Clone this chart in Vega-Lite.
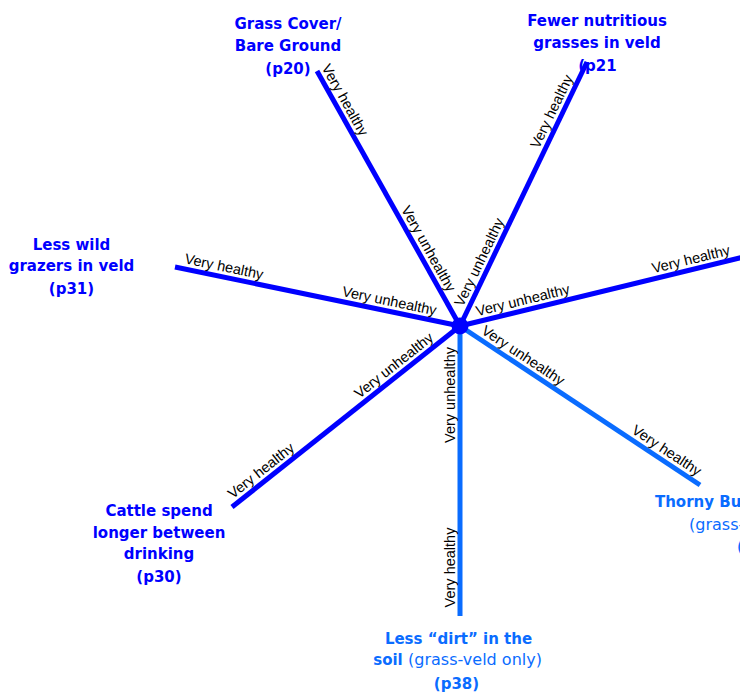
{
  "$schema": "https://vega.github.io/schema/vega-lite/v6.json",
  "width": 740,
  "height": 698,
  "autosize": {"type": "none"},
  "padding": 0,
  "background": "white",
  "config": {"view": {"stroke": null}},
  "datasets": {
    "spokes": [
      {"spoke": "p20", "tone": "dark", "x": 0, "y": 0, "x2": -143, "y2": 255},
      {"spoke": "p21", "tone": "dark", "x": 0, "y": 0, "x2": 127, "y2": 264},
      {"spoke": "right", "tone": "dark", "x": 0, "y": 0, "x2": 300, "y2": 73},
      {"spoke": "thorny", "tone": "light", "x": 0, "y": 0, "x2": 240, "y2": -159},
      {"spoke": "p38", "tone": "light", "x": 0, "y": 0, "x2": 0, "y2": -290},
      {"spoke": "p30", "tone": "dark", "x": 0, "y": 0, "x2": -228, "y2": -181},
      {"spoke": "p31", "tone": "dark", "x": 0, "y": 0, "x2": -285, "y2": 59}
    ],
    "labels": [
      {"spoke": "p20", "label": "Very unhealthy", "x": -40.5, "y": 72.2},
      {"spoke": "p20", "label": "Very healthy", "x": -124, "y": 221},
      {"spoke": "p21", "label": "Very unhealthy", "x": 28.6, "y": 59.4},
      {"spoke": "p21", "label": "Very healthy", "x": 101, "y": 210},
      {"spoke": "right", "label": "Very unhealthy", "x": 65.2, "y": 15.8},
      {"spoke": "right", "label": "Very healthy", "x": 233.3, "y": 56.7},
      {"spoke": "thorny", "label": "Very unhealthy", "x": 57.4, "y": -38},
      {"spoke": "thorny", "label": "Very healthy", "x": 201, "y": -133},
      {"spoke": "p38", "label": "Very unhealthy", "x": 0, "y": -69},
      {"spoke": "p38", "label": "Very healthy", "x": 0, "y": -241.5},
      {"spoke": "p30", "label": "Very unhealthy", "x": -59.8, "y": -47.5},
      {"spoke": "p30", "label": "Very healthy", "x": -192.5, "y": -152.8},
      {"spoke": "p31", "label": "Very unhealthy", "x": -72.7, "y": 15},
      {"spoke": "p31", "label": "Very healthy", "x": -238, "y": 49.3}
    ],
    "titles": [
      {"text": "Grass Cover/", "weight": "bold", "tone": "dark", "x": -172, "y": 302},
      {"text": "Bare Ground", "weight": "bold", "tone": "dark", "x": -172, "y": 280.5},
      {"text": "(p20)", "weight": "bold", "tone": "dark", "x": -172, "y": 257.5},
      {"text": "Fewer nutritious", "weight": "bold", "tone": "dark", "x": 137, "y": 305},
      {"text": "grasses in veld", "weight": "bold", "tone": "dark", "x": 137, "y": 283},
      {"text": "(p21", "weight": "bold", "tone": "dark", "x": 137.5, "y": 260.5},
      {"text": "Less wild", "weight": "bold", "tone": "dark", "x": -388.5, "y": 81.5},
      {"text": "grazers in veld", "weight": "bold", "tone": "dark", "x": -388.5, "y": 60},
      {"text": "(p31)", "weight": "bold", "tone": "dark", "x": -388.5, "y": 37},
      {"text": "Cattle spend", "weight": "bold", "tone": "dark", "x": -301, "y": -185},
      {"text": "longer between", "weight": "bold", "tone": "dark", "x": -301, "y": -207},
      {"text": "drinking", "weight": "bold", "tone": "dark", "x": -301, "y": -228},
      {"text": "(p30)", "weight": "bold", "tone": "dark", "x": -301, "y": -251},
      {"text": "Less “dirt” in the", "weight": "bold", "tone": "light", "x": -1.5, "y": -312.5},
      {"text": "soil", "weight": "bold", "tone": "light", "x": -72, "y": -334},
      {"text": "(grass-veld only)", "weight": "normal", "tone": "light", "x": 15, "y": -334},
      {"text": "(p38)", "weight": "bold", "tone": "light", "x": -3.5, "y": -358},
      {"text": "Thorny Bushes", "weight": "bold", "tone": "light", "x": 257.5, "y": -175.5},
      {"text": "(grass-veld only)", "weight": "normal", "tone": "light", "x": 296, "y": -199},
      {"text": "(p36)", "weight": "bold", "tone": "light", "x": 299.7, "y": -221}
    ]
  },
  "encoding": {
    "x": {"field": "x", "type": "quantitative", "scale": {"domain": [-460, 280], "nice": false, "zero": false}, "axis": null},
    "y": {"field": "y", "type": "quantitative", "scale": {"domain": [-372, 326], "nice": false, "zero": false}, "axis": null}
  },
  "layer": [
    {
      "data": {"name": "titles"},
      "transform": [{"filter": "datum.weight == 'bold'"}],
      "mark": {"type": "text", "font": "DejaVu Sans", "fontSize": 15, "fontWeight": "bold", "align": "center", "baseline": "middle", "clip": true},
      "encoding": {
        "text": {"field": "text", "type": "nominal"},
        "color": {"field": "tone", "type": "nominal", "scale": {"domain": ["dark", "light"], "range": ["#0000ff", "#0a6cff"]}, "legend": null}
      }
    },
    {
      "data": {"name": "titles"},
      "transform": [{"filter": "datum.weight == 'normal'"}],
      "mark": {"type": "text", "font": "DejaVu Sans", "fontSize": 16, "fontWeight": "normal", "align": "center", "baseline": "middle", "clip": true},
      "encoding": {
        "text": {"field": "text", "type": "nominal"},
        "color": {"field": "tone", "type": "nominal", "legend": null}
      }
    },
    {
      "data": {"name": "spokes"},
      "mark": {"type": "rule", "strokeWidth": 5, "strokeCap": "butt", "clip": true},
      "encoding": {
        "x2": {"field": "x2"},
        "y2": {"field": "y2"},
        "color": {"field": "tone", "type": "nominal", "legend": null}
      }
    },
    {
      "data": {"values": [{"x": 0, "y": 0}]},
      "mark": {"type": "circle", "size": 290, "color": "#0000ff", "opacity": 1}
    },
    {
      "data": {"name": "labels"},
      "transform": [{"filter": "datum.spoke == 'p20'"}],
      "mark": {"type": "text", "angle": 60.7, "font": "Liberation Sans", "fontSize": 14.5, "align": "center", "baseline": "bottom", "dy": -2.5, "color": "black"},
      "encoding": {"text": {"field": "label", "type": "nominal"}}
    },
    {
      "data": {"name": "labels"},
      "transform": [{"filter": "datum.spoke == 'p21'"}],
      "mark": {"type": "text", "angle": -64.3, "font": "Liberation Sans", "fontSize": 14.5, "align": "center", "baseline": "bottom", "dy": -2.5, "color": "black"},
      "encoding": {"text": {"field": "label", "type": "nominal"}}
    },
    {
      "data": {"name": "labels"},
      "transform": [{"filter": "datum.spoke == 'right'"}],
      "mark": {"type": "text", "angle": -13.65, "font": "Liberation Sans", "fontSize": 14.5, "align": "center", "baseline": "bottom", "dy": -2.5, "color": "black", "clip": true},
      "encoding": {"text": {"field": "label", "type": "nominal"}}
    },
    {
      "data": {"name": "labels"},
      "transform": [{"filter": "datum.spoke == 'thorny'"}],
      "mark": {"type": "text", "angle": 33.5, "font": "Liberation Sans", "fontSize": 14.5, "align": "center", "baseline": "bottom", "dy": -2.5, "color": "black"},
      "encoding": {"text": {"field": "label", "type": "nominal"}}
    },
    {
      "data": {"name": "labels"},
      "transform": [{"filter": "datum.spoke == 'p38'"}],
      "mark": {"type": "text", "angle": -90, "font": "Liberation Sans", "fontSize": 14.5, "align": "center", "baseline": "bottom", "dy": -2.5, "color": "black"},
      "encoding": {"text": {"field": "label", "type": "nominal"}}
    },
    {
      "data": {"name": "labels"},
      "transform": [{"filter": "datum.spoke == 'p30'"}],
      "mark": {"type": "text", "angle": -38.4, "font": "Liberation Sans", "fontSize": 14.5, "align": "center", "baseline": "bottom", "dy": -2.5, "color": "black"},
      "encoding": {"text": {"field": "label", "type": "nominal"}}
    },
    {
      "data": {"name": "labels"},
      "transform": [{"filter": "datum.spoke == 'p31'"}],
      "mark": {"type": "text", "angle": 11.7, "font": "Liberation Sans", "fontSize": 14.5, "align": "center", "baseline": "bottom", "dy": -2.5, "color": "black"},
      "encoding": {"text": {"field": "label", "type": "nominal"}}
    }
  ]
}
